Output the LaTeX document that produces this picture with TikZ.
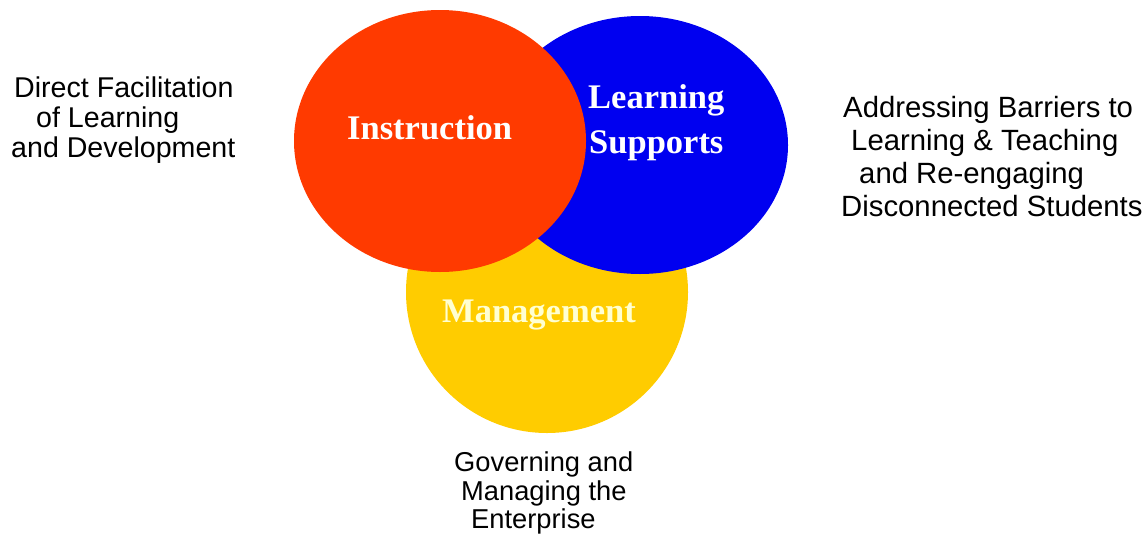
\documentclass[tikz,border=0pt]{standalone}
\usepackage{fontspec}
\usetikzlibrary{shapes.geometric}
\setmainfont{Liberation Sans}
\newfontfamily\serifb{Liberation Serif}
\definecolor{cred}{RGB}{255,58,0}
\definecolor{cblue}{RGB}{0,0,240}
\definecolor{cyellow}{RGB}{255,204,0}
\definecolor{cpale}{RGB}{255,255,210}
\begin{document}
\begin{tikzpicture}[x=1pt,y=-1pt,
  inner/.style={inner sep=0pt,anchor=base west,font=\serifb\bfseries\fontsize{34.5}{36}\selectfont,text=white},
  lab/.style={inner sep=0pt,anchor=base west,text=black},
  labL/.style={lab,font=\fontsize{28.6}{30}\selectfont},
  labR/.style={lab,font=\fontsize{29.3}{30}\selectfont},
  labB/.style={lab,font=\fontsize{27.3}{30}\selectfont},
  disc/.style={draw=none,ellipse,inner sep=0pt}]
\useasboundingbox (0,0) rectangle (1148,541);
\fill[white] (0,0) rectangle (1148,541);
% circles
\node[disc,fill=cyellow,minimum width=282pt,minimum height=282pt] (yel) at (547,292) {};
\node[disc,fill=cblue,minimum width=296pt,minimum height=258pt] (blu) at (640,145) {};
\node[disc,fill=cred,minimum width=292pt,minimum height=262pt] (red) at (440,141) {};
% inner labels
\node[inner] (ins) at (347,139) {Instruction};
\node[inner] (lea) at (588,108) {Learning};
\node[inner] (sup) at (589,153) {Supports};
\node[inner,text=cpale] (man) at (442,322) {Management};
% left label
\node[labL] (l1) at (14,97) {Direct Facilitation};
\node[labL] (l2) at (36,127) {of Learning};
\node[labL] (l3) at (11,157) {and Development};
% right label
\node[labR] (r1) at (843,117) {Addressing Barriers to};
\node[labR] (r2) at (851,150) {Learning \& Teaching};
\node[labR] (r3) at (859,183) {and Re-engaging};
\node[labR] (r4) at (841,216) {Disconnected Students};
% bottom label
\node[labB] (b1) at (454,471) {Governing and};
\node[labB] (b2) at (461,500) {Managing the};
\node[labB] (b3) at (471,528) {Enterprise};
\end{tikzpicture}
\end{document}
